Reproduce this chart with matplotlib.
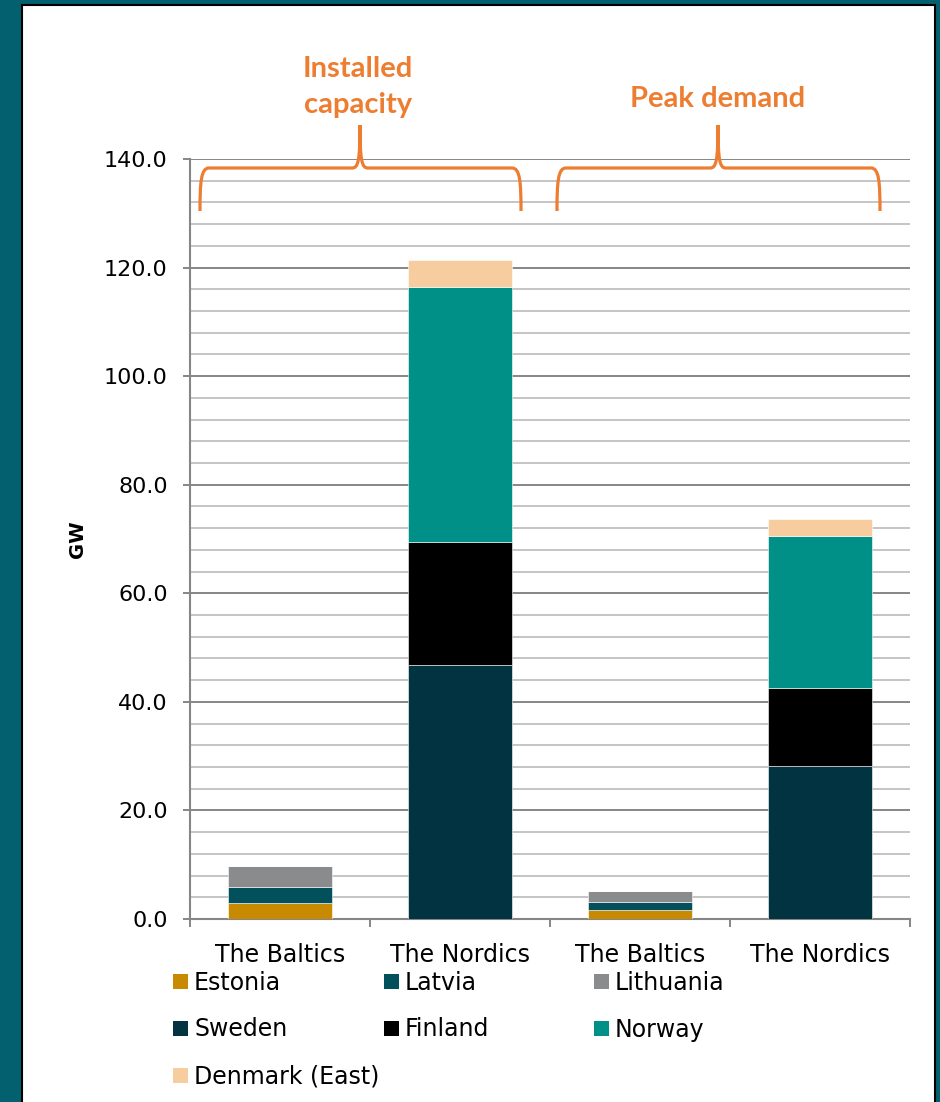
import matplotlib
matplotlib.use("Agg")
import matplotlib.pyplot as plt
import numpy as np
from matplotlib.path import Path
from matplotlib.patches import PathPatch, Rectangle
from matplotlib.transforms import Affine2D
from matplotlib.ticker import MultipleLocator, FormatStrFormatter

# ---------------- data ----------------
categories = ["The Baltics", "The Nordics", "The Baltics", "The Nordics"]
series_names = ["Estonia", "Latvia", "Lithuania", "Sweden", "Finland", "Norway", "Denmark (East)"]
estonia   = [2.9, 0.0, 1.6, 0.0]
latvia    = [3.0, 0.0, 1.45, 0.0]
lithuania = [3.8, 0.0, 2.1, 0.0]
sweden    = [0.0, 46.8, 0.0, 28.2]
finland   = [0.0, 22.6, 0.0, 14.3]
norway    = [0.0, 47.0, 0.0, 28.0]
denmark   = [0.0, 5.0, 0.0, 3.1]
series_values = [estonia, latvia, lithuania, sweden, finland, norway, denmark]
series_colors = ["#C88A00", "#02505C", "#8A8B8C", "#023341", "#000000", "#009088", "#F7CC9E"]
group_labels = ["Installed\ncapacity", "Peak demand"]

W, H = 940, 1102
fig = plt.figure(figsize=(W / 100, H / 100), dpi=100)
fig.patch.set_facecolor("#03606F")

# pixel transform (origin top-left)
px = Affine2D().scale(1 / W, -1 / H).translate(0, 1) + fig.transFigure

# white panel with black border
panel = Rectangle((22, 5), 913, 1110, transform=px, facecolor="white",
                  edgecolor="black", linewidth=1.5, zorder=-10)
fig.patches.append(panel)

ax = fig.add_axes([190 / W, 1 - 919 / H, 720 / W, 760 / H])
ax.set_facecolor("none")
ax.set_zorder(1)

x = np.arange(len(categories))
bottom = np.zeros(len(categories))
for name, vals, col in zip(series_names, series_values, series_colors):
    v = np.array(vals)
    ax.bar(x, v, width=0.58, bottom=bottom, color=col, edgecolor="white",
           linewidth=0.4, zorder=3, label=name)
    bottom += v

ax.set_xlim(-0.5, 3.5)
ax.set_ylim(0, 140)

# grid
ax.yaxis.set_major_locator(MultipleLocator(20))
ax.yaxis.set_minor_locator(MultipleLocator(4))
ax.yaxis.set_major_formatter(FormatStrFormatter("%.1f"))
ax.grid(which="minor", axis="y", color="#C0C0C0", linewidth=1.3, zorder=0)
ax.grid(which="major", axis="y", color="#868686", linewidth=1.4, zorder=0)
ax.set_axisbelow(True)

ax.tick_params(axis="y", which="major", length=5, width=1.4, color="#868686",
               labelsize=16, pad=11)
ax.tick_params(axis="y", which="minor", length=0)

# x ticks: marks at category boundaries, labels at centers
ax.set_xticks(np.arange(-0.5, 3.6, 1.0))
ax.set_xticklabels([])
ax.set_xticks(x, minor=True)
ax.set_xticklabels(categories, minor=True)
ax.tick_params(axis="x", which="major", length=6, width=1.4, color="#868686")
ax.tick_params(axis="x", which="minor", length=0, labelsize=17, pad=17)

for s in ["top", "right"]:
    ax.spines[s].set_visible(False)
for s in ["left", "bottom"]:
    ax.spines[s].set_color("#868686")
    ax.spines[s].set_linewidth(1.5)

ax.set_ylabel("GW", fontsize=14, fontweight="bold")
ax.yaxis.set_label_coords(-0.143, 0.5)

# ---------------- brackets ----------------
orange = "#ED7D31"

def bracket(x0, x1, xc, ybot, yh, ypeak):
    verts = [
        (x0, ybot), (x0, yh + 14), (x0 + 1, yh), (x0 + 9, yh),
        (xc - 8, yh),
        (xc - 2, yh), (xc, yh - 6), (xc, ypeak),
        (xc, yh - 6), (xc + 2, yh), (xc + 8, yh),
        (x1 - 9, yh),
        (x1 - 1, yh), (x1, yh + 14), (x1, ybot),
    ]
    codes = [Path.MOVETO, Path.CURVE4, Path.CURVE4, Path.CURVE4,
             Path.LINETO,
             Path.CURVE4, Path.CURVE4, Path.CURVE4,
             Path.CURVE4, Path.CURVE4, Path.CURVE4,
             Path.LINETO,
             Path.CURVE4, Path.CURVE4, Path.CURVE4]
    p = PathPatch(Path(verts, codes), transform=px, facecolor="none",
                  edgecolor=orange, linewidth=2.3, capstyle="butt", zorder=5)
    fig.patches.append(p)

bracket(200, 521, 360, 211, 168, 125)
bracket(557, 880, 718, 211, 168, 125)

fig.text(358, 87, group_labels[0], transform=px, ha="center", va="center",
         color=orange, fontsize=21, fontweight="bold", family="Lato",
         linespacing=1.45)
fig.text(718, 99, group_labels[1], transform=px, ha="center", va="center",
         color=orange, fontsize=21, fontweight="bold", family="Lato")

# ---------------- legend (row-major, 3 columns) ----------------
col_x = [173, 384, 594]
row_y = [981.5, 1028.5, 1075.5]
for i, (name, col) in enumerate(zip(series_names, series_colors)):
    r, c = divmod(i, 3)
    mx, my = col_x[c], row_y[r]
    fig.patches.append(Rectangle((mx, my - 7.5), 15, 15, transform=px,
                                 facecolor=col, edgecolor="none", zorder=5))
    fig.text(mx + 21, my + 1, name, transform=px, ha="left", va="center",
             fontsize=17, color="black")

fig.savefig("out.png", dpi=100, facecolor=fig.get_facecolor())
